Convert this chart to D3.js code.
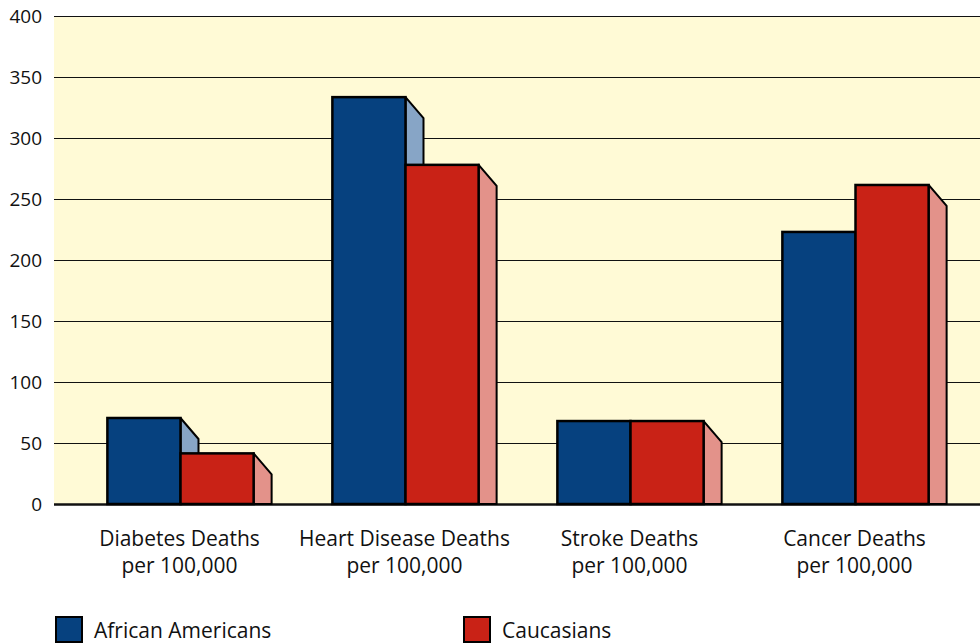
<!DOCTYPE html>
<html>
<head>
<meta charset="utf-8">
<script src="https://cdn.jsdelivr.net/npm/d3@7"></script>
<style>
  body { margin: 0; background: #fff; }
  svg { display: block; font-family: "Open Sans", "Noto Sans", sans-serif; }
</style>
</head>
<body>
<svg id="container" width="980" height="644"></svg>
<script>
const width = 980;
const height = 644;
const plot = {left: 54, right: 980, top: 16, bottom: 504};

const categories = ["Diabetes Deaths|per 100,000", "Heart Disease Deaths|per 100,000",
                    "Stroke Deaths|per 100,000", "Cancer Deaths|per 100,000"];
const seriesNames = ["African Americans", "Caucasians"];
const africanAmericans = [70.5, 333.5, 68, 223];
const caucasians = [41.5, 278, 68, 261.5];
const yTicks = [0, 50, 100, 150, 200, 250, 300, 350, 400];

const colors = ["#06417f", "#c92216"];
const sideColors = ["#87a5c6", "#e3928a"];
const depth = {dx: 18, dy: 21};

const svg = d3.select("#container").attr("viewBox", [0, 0, width, height]);

var x = d3.scaleBand()
    .domain(categories)
    .range([68, 968])
    .paddingInner(0.35)
    .paddingOuter(0.175);

var xs = d3.scaleBand()
    .domain(seriesNames)
    .range([0, x.bandwidth()]);

var y = d3.scaleLinear()
    .domain([0, 400])
    .range([plot.bottom, plot.top]);

// plot background
svg.append("rect")
    .attr("x", plot.left)
    .attr("y", plot.top)
    .attr("width", plot.right - plot.left)
    .attr("height", plot.bottom - plot.top)
    .attr("fill", "#fffad6");

// y axis + gridlines
var yAxis = g => g
    .attr("transform", `translate(${plot.left},0)`)
    .call(d3.axisLeft(y).tickValues(yTicks).tickSize(0).tickPadding(12))
    .call(g => g.select(".domain").remove())
    .call(g => g.selectAll(".tick text")
        .attr("font-size", 19)
        .attr("fill", "#111")
        .attr("font-family", "'Open Sans', sans-serif"))
    .call(g => g.selectAll(".tick line").clone()
        .attr("stroke", "#111")
        .attr("stroke-width", d => d === 0 ? 2.5 : 1.2)
        .attr("x2", plot.right - plot.left));

svg.append("g").call(yAxis);

// bars
const data = categories.map((c, i) => ({cat: c, values: [africanAmericans[i], caucasians[i]]}));

const groups = svg.append("g")
    .selectAll("g")
    .data(data)
    .join("g")
    .attr("transform", d => `translate(${x(d.cat)},0)`);

seriesNames.forEach((s, si) => {
  groups.append("path")
      .attr("d", d => {
        const x1 = xs(s) + xs.bandwidth();
        const top = y(d.values[si]);
        const base = y(0);
        return `M${x1},${top}L${x1 + depth.dx},${top + depth.dy}L${x1 + depth.dx},${base}L${x1},${base}Z`;
      })
      .attr("fill", sideColors[si])
      .attr("stroke", "#000")
      .attr("stroke-width", 2)
      .attr("stroke-linejoin", "round");

  groups.append("rect")
      .attr("x", xs(s))
      .attr("y", d => y(d.values[si]))
      .attr("width", xs.bandwidth())
      .attr("height", d => y(0) - y(d.values[si]))
      .attr("fill", colors[si])
      .attr("stroke", "#000")
      .attr("stroke-width", 2.5);
});

// category labels
const labels = svg.append("g")
    .selectAll("text")
    .data(categories)
    .join("text")
    .attr("x", d => x(d) + x.bandwidth() / 2 - 1)
    .attr("y", 546)
    .attr("text-anchor", "middle")
    .attr("font-size", 21)
    .attr("fill", "#111");

labels.selectAll("tspan")
    .data(d => d.split("|"))
    .join("tspan")
    .attr("x", function() { return d3.select(this.parentNode).attr("x"); })
    .attr("dy", (d, i) => i === 0 ? 0 : 27)
    .text(d => d);

// legend
const legendX = [56, 464];
const legend = svg.append("g")
    .selectAll("g")
    .data(seriesNames)
    .join("g")
    .attr("transform", (d, i) => `translate(${legendX[i]},617)`);

legend.append("rect")
    .attr("width", 26)
    .attr("height", 25)
    .attr("fill", (d, i) => colors[i])
    .attr("stroke", "#000")
    .attr("stroke-width", 2);

legend.append("text")
    .attr("x", 38)
    .attr("y", 21)
    .attr("font-size", 21)
    .attr("fill", "#111")
    .text(d => d);
</script>
</body>
</html>
